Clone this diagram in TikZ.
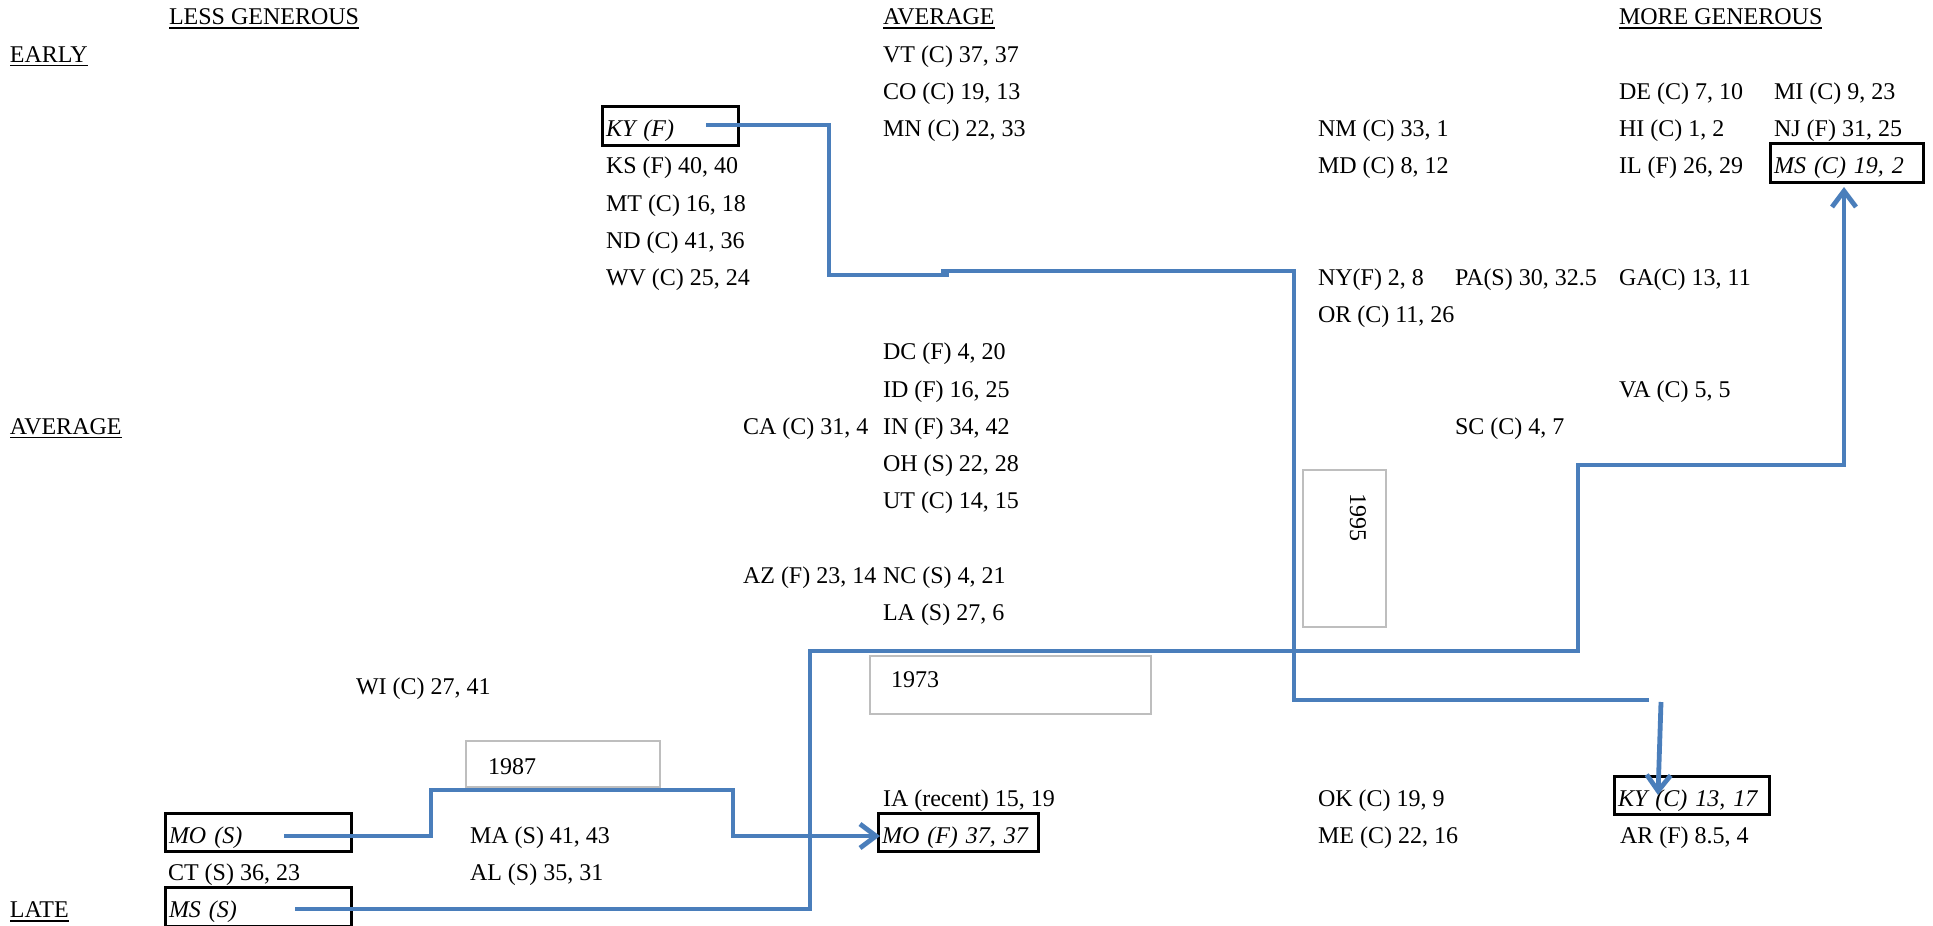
\documentclass[tikz,border=0pt]{standalone}
\usepackage{fontspec}
\setmainfont{Liberation Serif}
\usetikzlibrary{arrows.meta}
\definecolor{connblue}{RGB}{74,126,187}
\definecolor{gboxc}{RGB}{190,190,190}
\begin{document}
\begin{tikzpicture}[x=0.5pt,y=-0.5pt,font=\fontsize{12}{14}\selectfont,
 txt/.style={anchor=base west,inner sep=0pt,outer sep=0pt},
 bbox/.style={draw=black,line width=1.5pt,anchor=base west,outer sep=0pt,inner xsep=2pt,inner ysep=1pt,text height=14pt,text depth=3.25pt,align=left,font=\fontsize{12}{14}\selectfont\itshape},
 gbox/.style={draw=gboxc,line width=1.2pt,anchor=base west,outer sep=0pt,inner ysep=1pt,align=left},
 link/.style={draw=connblue,line width=2.4pt},
 arr/.style={link,-{Straight Barb[length=8pt,width=12pt]}},
 uline/.style={line width=0.8pt}]
\fill[white] (0,0) rectangle (1933,926);
\useasboundingbox (0,0) rectangle (1933,926);

% headers
\node[txt] (hless) at (169,25) {LESS GENEROUS};
\node[txt] (havg) at (883,25) {AVERAGE};
\node[txt] (hmore) at (1619,25) {MORE GENEROUS};
\node[txt] (hearly) at (10,62.2) {EARLY};
\node[txt] (haver) at (10,434.2) {AVERAGE};
\node[txt] (hlate) at (10,917.8) {LATE};
\foreach \h in {hless,havg,hmore,hearly,haver,hlate}
  \draw[uline] ([yshift=-1.6pt]\h.base west) -- ([yshift=-1.6pt]\h.base east);

% row 1-4
\node[txt] (vt) at (883,62.2) {VT (C) 37, 37};
\node[txt] (co) at (883,99.4) {CO (C) 19, 13};
\node[txt] (de) at (1619,99.4) {DE (C) 7, 10};
\node[txt] (mi) at (1774,99.4) {MI (C) 9, 23};
\node[bbox,text width=64pt] (kyf) at (602,136.6) {KY (F)};
\node[txt] (mn) at (883,136.6) {MN (C) 22, 33};
\node[txt] (nm) at (1318,136.6) {NM (C) 33, 1};
\node[txt] (hi) at (1619,136.6) {HI (C) 1, 2};
\node[txt] (nj) at (1774,136.6) {NJ (F) 31, 25};
\node[txt] (ks) at (606,173.8) {KS (F) 40, 40};
\node[txt] (md) at (1318,173.8) {MD (C) 8, 12};
\node[txt] (il) at (1619,173.8) {IL (F) 26, 29};
\node[bbox,text width=72.5pt] (msc) at (1770,173.8) {MS (C) 19, 2};
% rows 5-8
\node[txt] (mt) at (606,211) {MT (C) 16, 18};
\node[txt] (nd) at (606,248.2) {ND (C) 41, 36};
\node[txt] (wv) at (606,285.4) {WV (C) 25, 24};
\node[txt] (ny) at (1318,285.4) {NY(F) 2, 8};
\node[txt] (pa) at (1455,285.4) {PA(S) 30, 32.5};
\node[txt] (ga) at (1619,285.4) {GA(C) 13, 11};
\node[txt] (or) at (1318,322.6) {OR (C) 11, 26};
% rows 9-16
\node[txt] (dc) at (883,359.8) {DC (F) 4, 20};
\node[txt] (id) at (883,397) {ID (F) 16, 25};
\node[txt] (va) at (1619,397) {VA (C) 5, 5};
\node[txt] (ca) at (743,434.2) {CA (C) 31, 4};
\node[txt] (in) at (883,434.2) {IN (F) 34, 42};
\node[txt] (sc) at (1455,434.2) {SC (C) 4, 7};
\node[txt] (oh) at (883,471.4) {OH (S) 22, 28};
\node[txt] (ut) at (883,508.6) {UT (C) 14, 15};
\node[txt] (az) at (743,583) {AZ (F) 23, 14};
\node[txt] (nc) at (883,583) {NC (S) 4, 21};
\node[txt] (la) at (883,620.2) {LA (S) 27, 6};
% lower rows
\node[txt] (wi) at (356,694.6) {WI (C) 27, 41};
\node[txt] (ia) at (883,806.2) {IA (recent) 15, 19};
\node[txt] (ok) at (1318,806.2) {OK (C) 19, 9};
\node[bbox,text width=73.5pt] (kyc) at (1614,806.2) {KY (C) 13, 17};
\node[bbox,text width=89pt] (mos) at (165,843.4) {MO (S)};
\node[txt] (ma) at (470,843.4) {MA (S) 41, 43};
\node[bbox,text width=76pt] (mof) at (878,843.4) {MO (F) 37, 37};
\node[txt] (me) at (1318,843.4) {ME (C) 22, 16};
\node[txt] (ar) at (1620,843.4) {AR (F) 8.5, 4};
\node[txt] (ct) at (168,880.6) {CT (S) 36, 23};
\node[txt] (al) at (470,880.6) {AL (S) 35, 31};
\node[bbox,text width=89pt] (mss) at (165,917.8) {MS (S)};

% year boxes
\node[gbox,inner xsep=10.5pt,text height=14.5pt,text depth=12.5pt,text width=119.5pt] (y73) at (870,687) {1973};
\node[gbox,inner xsep=11pt,text height=15.5pt,text depth=5.5pt,text width=75pt] (y87) at (466,774) {1987};
\node[gbox,rotate=-90,inner xsep=11.5pt,text height=17pt,text depth=22.5pt,text width=55.5pt] (y95) at (1350,470) {1995};

% connectors
\draw[link] ([xshift=52pt,yshift=5.8pt]kyf.base west) -- (829,125) -- (829,275) -- (949,275)
  (941,271) -- (1294,271) -- (1294,700) -- (1649,700);
\coordinate (kygap) at (1661,702);
\draw[arr] (kygap) -- ([xshift=22pt,yshift=5.6pt]kyc.base west);

\draw[arr] ([xshift=59.5pt,yshift=3.7pt]mos.base west) -- (431,836) -- (431,790) -- (733,790) -- (733,836)
  -- ([xshift=1pt,yshift=3.7pt]mof.base west);

\draw[arr] ([xshift=65pt,yshift=4.4pt]mss.base west) -- (810,909) -- (810,651) -- (1578,651) -- (1578,465)
  -- (1844,465) -- ([xshift=37pt,yshift=-6.6pt]msc.base west);
\end{tikzpicture}
\end{document}
